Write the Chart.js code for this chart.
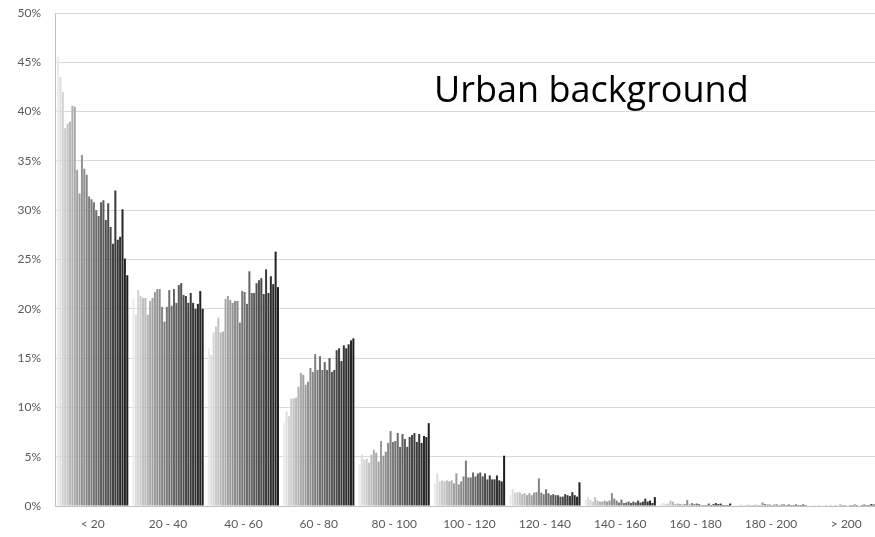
<!DOCTYPE html>
<html>
<head>
<meta charset="utf-8">
<script src="https://cdn.jsdelivr.net/npm/chart.js@4"></script>
<style>
  html, body { margin: 0; padding: 0; background: #fff; overflow: hidden; }
  #wrap { width: 884px; height: 537px; }
</style>
</head>
<body>
<div id="wrap"><canvas id="speedChart"></canvas></div>
<script>
// Speed classes (km/h) on the x axis
var categories = ["< 20", "20 - 40", "40 - 60", "60 - 80", "80 - 100", "100 - 120",
                  "120 - 140", "140 - 160", "160 - 180", "180 - 200", "> 200"];

// Share of time (%) per station, one array per speed class (30 stations each)
var lt20 = [45.6, 43.5, 42.0, 38.3, 38.8, 39.0, 40.6, 40.5, 34.1, 31.7, 35.6, 34.2, 33.6, 31.4, 31.1,
            30.8, 30.0, 29.4, 30.8, 31.0, 29.0, 30.7, 28.3, 26.6, 32.0, 27.0, 27.3, 30.1, 25.1, 23.4];
var s20_40 = [21.0, 19.4, 21.9, 21.3, 21.1, 21.1, 19.4, 20.8, 21.1, 21.7, 22.0, 22.0, 20.2, 18.7, 20.2,
              21.9, 20.3, 22.0, 20.6, 22.4, 22.6, 21.4, 21.3, 20.6, 21.6, 20.6, 20.0, 20.5, 21.8, 20.0];
var s40_60 = [16.0, 15.3, 17.6, 18.2, 19.1, 17.6, 17.7, 21.0, 21.3, 20.9, 20.6, 20.8, 20.8, 18.6, 21.8,
              21.7, 20.5, 23.8, 21.6, 21.6, 22.6, 22.9, 23.1, 21.5, 24.0, 21.6, 23.3, 22.5, 25.8, 22.2];
var s60_80 = [8.4, 9.6, 9.1, 10.9, 10.9, 11.0, 12.1, 13.5, 13.3, 12.3, 12.6, 14.0, 13.6, 15.4, 13.8,
              15.2, 13.8, 14.6, 13.8, 15.0, 13.6, 13.8, 15.8, 16.0, 14.7, 16.3, 16.0, 16.4, 16.8, 17.0];
var s80_100 = [4.2, 5.2, 4.7, 4.8, 4.4, 5.2, 5.7, 5.4, 4.5, 6.6, 5.1, 5.5, 6.4, 7.6, 6.5,
               6.6, 7.4, 6.0, 7.3, 6.8, 6.0, 7.0, 7.2, 7.4, 6.5, 7.3, 6.4, 7.1, 7.0, 8.4];
var s100_120 = [2.3, 3.3, 2.5, 2.6, 2.5, 2.6, 2.5, 2.6, 2.3, 3.3, 2.2, 2.5, 3.0, 4.6, 2.9,
                2.9, 3.4, 3.0, 3.3, 3.4, 3.0, 3.3, 2.7, 3.1, 2.7, 2.7, 3.1, 2.6, 2.5, 5.1];
var s120_140 = [1.1, 1.7, 1.35, 1.4, 1.4, 1.2, 1.3, 1.1, 1.3, 1.1, 1.35, 1.4, 2.8, 1.35, 1.2,
                1.7, 1.3, 1.1, 1.2, 1.1, 1.1, 0.95, 0.95, 1.2, 1.1, 1.0, 1.4, 1.1, 0.95, 2.4];
var s140_160 = [0.6, 0.9, 0.65, 0.45, 0.9, 0.55, 0.45, 0.45, 0.55, 0.45, 0.55, 1.3, 0.75, 0.55, 0.35,
                0.65, 0.3, 0.35, 0.45, 0.3, 0.45, 0.35, 0.55, 0.35, 0.45, 0.75, 0.45, 0.55, 0.3, 0.9];
var s160_180 = [0.2, 0.3, 0.2, 0.25, 0.55, 0.45, 0.2, 0.25, 0.2, 0.15, 0.2, 0.6, 0.15, 0.3, 0.2,
                0.25, 0.2, 0.1, 0.1, 0.1, 0.25, 0.1, 0.2, 0.3, 0.2, 0.25, 0.1, 0.1, 0.1, 0.25];
var s180_200 = [0.1, 0.1, 0.15, 0.1, 0.1, 0.15, 0.1, 0.1, 0.15, 0.1, 0.1, 0.35, 0.2, 0.15, 0.15,
                0.1, 0.15, 0.15, 0.1, 0.15, 0.15, 0.1, 0.15, 0.1, 0.1, 0.15, 0.1, 0.1, 0.15, 0.1];
var gt200 = [0.05, 0.1, 0.05, 0.1, 0.05, 0.05, 0.1, 0.05, 0.1, 0.05, 0.1, 0.05, 0.15, 0.1, 0.1,
             0.05, 0.1, 0.1, 0.15, 0.1, 0.05, 0.1, 0.15, 0.1, 0.1, 0.2, 0.15, 0.1, 0.15, 0.1];

var yTicks = [0, 5, 10, 15, 20, 25, 30, 35, 40, 45, 50];

var groups = [lt20, s20_40, s40_60, s60_80, s80_100, s100_120, s120_140,
              s140_160, s160_180, s180_200, gt200];

// one dataset per station, shaded light -> dark
var datasets = [];
for (var i = 0; i < lt20.length; i++) {
    var g = Math.round(235 - 205 * Math.pow(i / (lt20.length - 1), 0.8));
    datasets.push({
        label: "Station " + (i + 1),
        data: groups.map(function (grp) { return grp[i]; }),
        backgroundColor: "rgb(" + g + "," + g + "," + g + ")",
        categoryPercentage: 0.95,
        barPercentage: 0.85
    });
}

// Text label inside the plot
var labelPlugin = {
    id: "urbanLabel",
    afterDraw: function (chart) {
        var c = chart.ctx;
        c.save();
        c.font = "36px 'Open Sans', sans-serif";
        c.fillStyle = "#000";
        c.textBaseline = "alphabetic";
        c.fillText("Urban background", 434, 102);
        c.restore();
    }
};

var ctx = document.getElementById("speedChart").getContext("2d");
var speedChart = new Chart(ctx, {
    type: "bar",
    data: { labels: categories, datasets: datasets },
    options: {
        responsive: true,
        maintainAspectRatio: false,
        animation: false,
        layout: { padding: { top: 13, right: 0, left: 0, bottom: 0 } },
        plugins: { legend: { display: false }, tooltip: { enabled: false } },
        scales: {
            x: {
                grid: { display: false },
                border: { color: "#bfbfbf" },
                ticks: { color: "#595959", font: { family: "Lato, sans-serif", size: 12 }, padding: 3, maxRotation: 0 },
                afterFit: function (axis) { axis.height = 31; }
            },
            y: {
                min: 0,
                max: 50,
                afterBuildTicks: function (axis) { axis.ticks = yTicks.map(function (v) { return { value: v }; }); },
                grid: { color: "#d9d9d9", drawTicks: false },
                border: { color: "#bfbfbf" },
                ticks: {
                    color: "#595959",
                    font: { family: "Lato, sans-serif", size: 12 },
                    padding: 14,
                    callback: function (v) { return v + "%"; }
                },
                afterFit: function (axis) {
                    axis.width = 55;
                    axis.paddingTop = 0;
                    axis.paddingBottom = 0;
                }
            }
        }
    },
    plugins: [labelPlugin]
});
</script>
</body>
</html>
